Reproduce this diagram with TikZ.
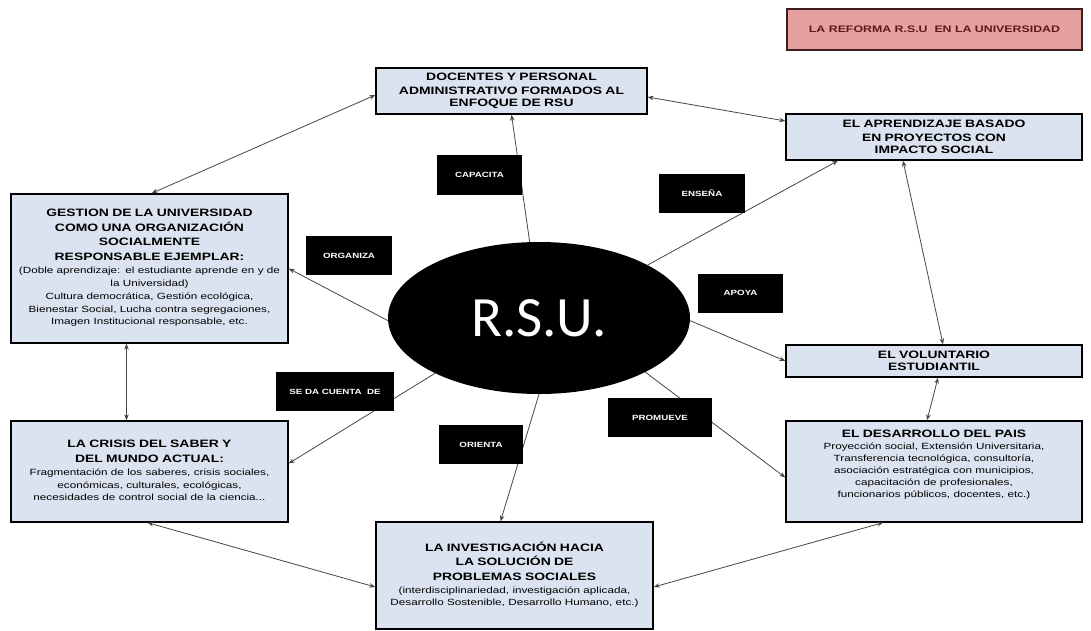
\documentclass[tikz,border=0pt]{standalone}
\usepackage{fontspec}
\setmainfont{Liberation Sans}
\newfontfamily\wsans[FakeStretch=1.3]{Liberation Sans}
\newfontfamily\calib{Carlito}
\usetikzlibrary{shapes.geometric,arrows.meta,calc}
\definecolor{boxfill}{RGB}{220,227,240}
\definecolor{pinkfill}{RGB}{229,160,160}
\definecolor{pinkline}{RGB}{60,30,30}
\definecolor{pinktext}{RGB}{95,25,25}
\definecolor{linkgray}{RGB}{70,70,70}
\newcommand\hdf{\wsans\fontsize{10.7}{14.5}\selectfont\bfseries}
\newcommand\bdf{\wsans\fontsize{9}{13}\selectfont\mdseries}
\tikzset{
  box/.style={draw=black, line width=1.3pt, fill=boxfill, inner sep=0pt, rectangle},
  txt/.style={text width=320pt, align=center, inner sep=0pt, text=black},
  verb/.style={fill=black, text=white, inner sep=0pt, minimum height=39pt,
    font=\wsans\fontsize{7.5}{9}\selectfont\bfseries},
  link/.style={draw=linkgray, line width=0.8pt, -{Stealth[length=6pt,width=4.5pt]}},
  dlink/.style={draw=linkgray, line width=0.8pt, {Stealth[length=6pt,width=4.5pt]}-{Stealth[length=6pt,width=4.5pt]}},
}
\begin{document}
\begin{tikzpicture}[x=1pt,y=-1pt]
\useasboundingbox[fill=white] (0,0) rectangle (1091,631);

% title
\node[draw=pinkline, line width=1.3pt, fill=pinkfill, minimum width=295pt, minimum height=41pt,
  text=pinktext, font=\wsans\fontsize{9.5}{11}\selectfont\bfseries] (title) at (934.5,29.5)
  {LA REFORMA R.S.U\ \ EN LA UNIVERSIDAD};

% boxes
\node[box, minimum width=271pt, minimum height=46pt] (doc) at (511.5,91) {};
\node[txt] (docT) at (doc.center) {\hdf DOCENTES Y PERSONAL\\ADMINISTRATIVO FORMADOS AL\\ENFOQUE DE RSU};

\node[box, minimum width=296pt, minimum height=46pt] (apr) at (934,137) {};
\node[txt] (aprT) at (apr.center) {\hdf EL APRENDIZAJE BASADO\\EN PROYECTOS CON\\IMPACTO SOCIAL};

\node[box, minimum width=277pt, minimum height=149pt] (ges) at (149.5,268.5) {};
\node[txt] (gesT) at ([yshift=1pt]ges.center) {\hdf GESTION DE LA UNIVERSIDAD\\COMO UNA ORGANIZACIÓN\\SOCIALMENTE\\RESPONSABLE EJEMPLAR:\par
  \bdf (Doble aprendizaje: el estudiante aprende en y de\\la Universidad)\\Cultura democrática, Gestión ecológica,\\Bienestar Social, Lucha contra segregaciones,\\Imagen Institucional responsable, etc.};

\node[box, minimum width=296pt, minimum height=32pt] (vol) at (934,361) {};
\node[txt] (volT) at (vol.center) {\hdf EL VOLUNTARIO\\ESTUDIANTIL};

\node[box, minimum width=277pt, minimum height=101pt] (cri) at (149.5,471.5) {};
\node[txt] (criT) at ([yshift=1pt]cri.center) {\hdf LA CRISIS DEL SABER Y\\DEL MUNDO ACTUAL:\par
  \bdf Fragmentación de los saberes, crisis sociales,\\económicas, culturales, ecológicas,\\necesidades de control social de la ciencia...};

\node[box, minimum width=296pt, minimum height=101pt] (des) at (934,471.5) {};
\node[txt] (desT) at ([yshift=7pt]des.center) {\hdf EL DESARROLLO DEL PAIS\par
  \bdf\baselineskip=12pt Proyección social, Extensión Universitaria,\\Transferencia tecnológica, consultoría,\\asociación estratégica con municipios,\\capacitación de profesionales,\\funcionarios públicos, docentes, etc.)};

\node[box, minimum width=277pt, minimum height=107pt] (inv) at (514.5,575.5) {};
\node[txt] (invT) at ([yshift=1pt]inv.center) {\hdf LA INVESTIGACIÓN HACIA\\LA SOLUCIÓN DE\\PROBLEMAS SOCIALES\par
  \bdf (interdisciplinariedad, investigación aplicada,\\Desarrollo Sostenible, Desarrollo Humano, etc.)};

% central ellipse
\node[ellipse, fill=black, minimum width=302pt, minimum height=152pt, inner sep=0pt,
  text=white, font=\calib\fontsize{57}{62}\selectfont] (rsu) at (539,318) {R.S.U.};

% links from RSU
\draw[link] (rsu.97) -- (doc.south);
\draw[link] (rsu.26) -- ([xshift=-96pt]apr.south);
\draw[link] (rsu.181) -- (ges.east);
\draw[link] (rsu.-1.5) -- (vol.west);
\draw[link] (rsu.208) -- ([yshift=8pt]cri.east);
\draw[link] (rsu.270) -- ([xshift=-14pt]inv.north);
\draw[link] (rsu.-27.5) -- ([yshift=-6pt]des.west);

% double links between boxes
\draw[dlink] ([yshift=-4pt]doc.west) -- ([xshift=2pt]ges.north);
\draw[dlink] ([yshift=-6pt]doc.east) -- ([yshift=16pt]apr.west);
\draw[dlink] ([xshift=-31pt]apr.south) -- ([xshift=9pt]vol.north);
\draw[dlink] ([xshift=4pt]vol.south) -- ([xshift=-7pt]des.north);
\draw[dlink] ([xshift=-23pt]ges.south) -- ([xshift=-23pt]cri.north);
\draw[dlink] ([xshift=-2pt]cri.south) -- ([yshift=-11.5pt]inv.west);
\draw[dlink] ([yshift=-11.5pt]inv.east) -- ([xshift=-51pt]des.south);

% verb labels
\node[verb, minimum width=85pt] (capacita) at (479.5,175) {CAPACITA};
\node[verb, minimum width=86pt] (ensena) at (702,193.5) {ENSEÑA};
\node[verb, minimum width=86pt] (organiza) at (349,255.5) {ORGANIZA};
\node[verb, minimum width=85pt] (apoya) at (740.5,293) {APOYA};
\node[verb, minimum width=118pt] (sedacuenta) at (335,391.5) {SE DA CUENTA\ \ DE};
\node[verb, minimum width=84pt] (orienta) at (481,444.5) {ORIENTA};
\node[verb, minimum width=104pt] (promueve) at (660,417.5) {PROMUEVE};
\end{tikzpicture}
\end{document}
